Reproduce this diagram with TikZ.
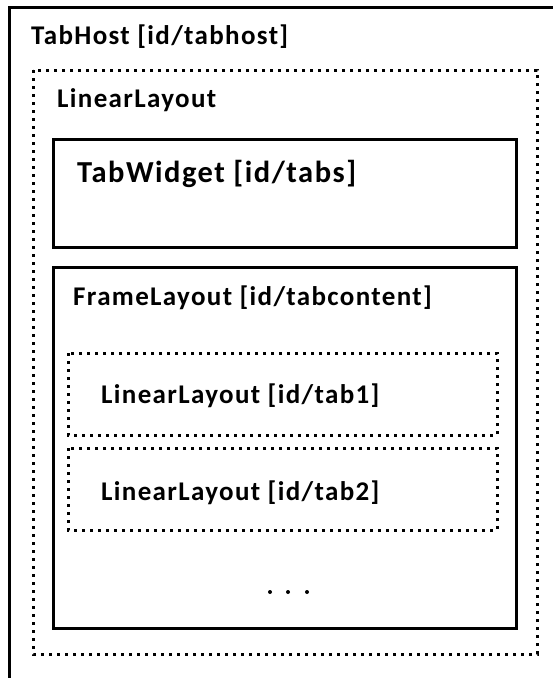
\documentclass[tikz,border=0pt]{standalone}
\usepackage{fontspec}
\setmainfont{Carlito}[LetterSpace=5]
\begin{document}
\begin{tikzpicture}[x=1pt,y=-1pt,
  solidbox/.style={draw=black,line width=3pt},
  dotbox/.style={draw=black,line width=3pt,dash pattern=on 3pt off 5pt},
  lbl/.style={anchor=base west,inner sep=0pt,font=\bfseries\fontsize{27}{27}\selectfont,text=black},
  biglbl/.style={lbl,font=\bfseries\fontsize{30.5}{30.5}\selectfont}]
\useasboundingbox (0,0) rectangle (553,678);
\clip (0,0) rectangle (553,678);
\fill[white] (0,0) rectangle (553,678);
% TabHost outer box (extends past the picture)
\draw[solidbox] (9.5,7) rectangle (575,700);
\node[lbl] (tabhost) at (31,44) {TabHost [id/tabhost]};
% LinearLayout dotted
\draw[dotbox] (33,70) rectangle (537,654);
\node[lbl] (ll) at (57,107.5) {LinearLayout};
% TabWidget
\draw[solidbox] (53,139) rectangle (516,247);
\node[biglbl] (tabs) at (77,182) {TabWidget [id/tabs]};
% FrameLayout
\draw[solidbox] (53,267) rectangle (516,628);
\node[lbl] (frame) at (73,305) {FrameLayout [id/tabcontent]};
% tab1
\draw[dotbox] (68,353) rectangle (497,435);
\node[lbl] (tab1) at (101,403) {LinearLayout [id/tab1]};
% tab2
\draw[dotbox] (68,448) rectangle (497,530);
\node[lbl] (tab2) at (101,500) {LinearLayout [id/tab2]};
% dots
\node[inner sep=0pt] (dots) at (288.5,592) {\tikz[x=1pt,y=1pt]{\fill (0,0) circle (2) (18,0) circle (2) (37,0) circle (2);}};
\end{tikzpicture}
\end{document}
